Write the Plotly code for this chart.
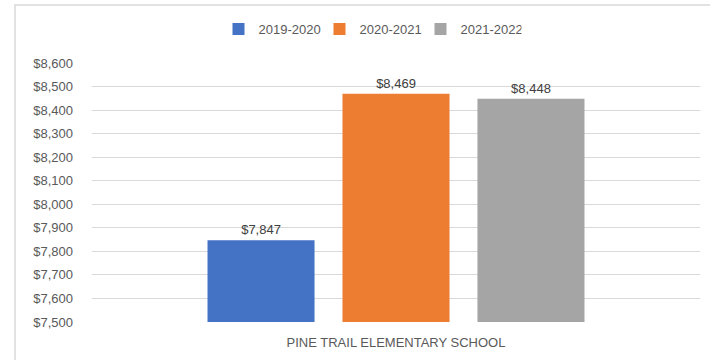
import plotly.graph_objects as go

categories = ["PINE TRAIL ELEMENTARY SCHOOL"]
series_names = ["2019-2020", "2020-2021", "2021-2022"]
series_values = [[7847], [8469], [8448]]
colors = ["#4472C4", "#ED7D31", "#A5A5A5"]
y_ticks = list(range(7500, 8601, 100))

W, H = 710, 360
L, R, T, B = 92, 10, 63, 38
pw, ph = W - L - R, H - T - B

fig = go.Figure()
for name, vals, c in zip(series_names, series_values, colors):
    fig.add_trace(go.Bar(
        x=categories, y=vals, name=name, marker_color=c, marker_line_width=0,
        text=[f"${v:,}" for v in vals], textposition="outside", cliponaxis=False,
        textfont=dict(size=13, color="#404040"),
    ))

font = "Liberation Sans, Arial, sans-serif"
fig.update_layout(
    width=W, height=H,
    margin=dict(l=L, r=R, t=T, b=B),
    paper_bgcolor="white", plot_bgcolor="white",
    font=dict(family=font, size=13, color="#595959"),
    barmode="group", bargap=0.334, bargroupgap=0.207,
    showlegend=True,
    legend=dict(orientation="h", x=(370 - L) / pw, xanchor="center",
                y=(H - B - 29) / ph, yanchor="middle",
                font=dict(size=13, color="#595959"), itemwidth=30,
                entrywidth=56, entrywidthmode="pixels",
                traceorder="normal"),
    xaxis=dict(showline=False, ticks="", ticklabelstandoff=11,
               tickfont=dict(size=13, color="#595959")),
    yaxis=dict(range=[7500, 8600], tickvals=y_ticks,
               ticktext=[f"${v:,}" for v in y_ticks],
               showgrid=True, gridcolor="#D9D9D9", gridwidth=1,
               zeroline=False, showline=False, ticks="", ticklabelstandoff=18,
               tickfont=dict(size=13, color="#595959")),
)
fig.add_shape(type="rect", xref="paper", yref="paper",
              x0=(15 - L) / pw, x1=(W + 5 - L) / pw,
              y0=(H - B - (H + 5)) / ph, y1=(H - B - 5) / ph,
              line=dict(color="#D9D9D9", width=1.5), fillcolor="rgba(0,0,0,0)", layer="below")
fig.write_html("out.html", config={"displayModeBar": False},
               post_script="document.body.style.margin='0';document.body.style.overflow='hidden';")
